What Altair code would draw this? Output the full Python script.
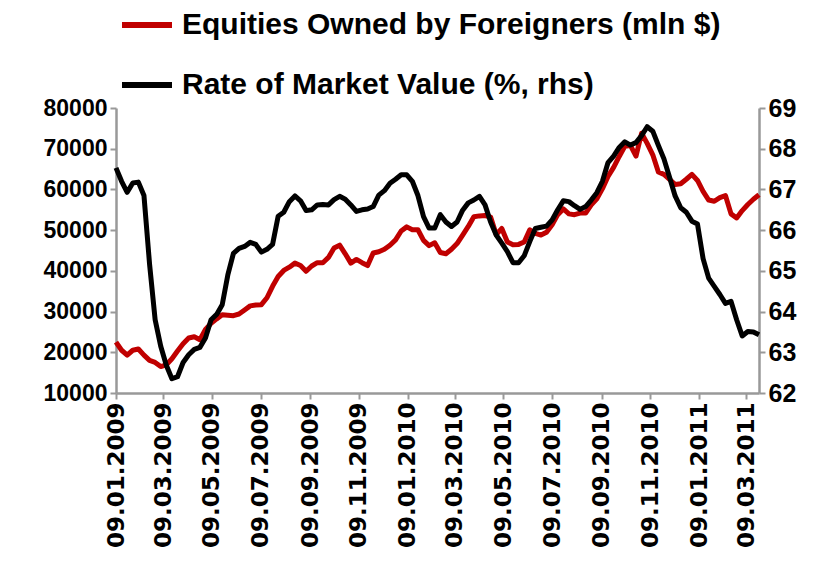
import altair as alt
import pandas as pd

# weekly observations, 09.01.2009 .. 25.03.2011
dates = pd.date_range("2009-01-09", periods=116, freq="7D").strftime("%Y-%m-%dT00:00:00").tolist()

equities = [
    22500, 20500, 19300, 20500, 20800, 19300, 18000, 17500, 16500, 16900,
    18400, 20300, 22100, 23500, 23800, 23100, 25600, 27100, 28200, 29200,
    29100, 29000, 29400, 30400, 31400, 31600, 31700, 33400, 36200, 38600,
    40100, 40900, 41900, 41300, 39900, 41200, 42000, 42000, 43300, 45600,
    46300, 44200, 41900, 42800, 42000, 41300, 44400, 44700, 45300, 46300,
    47600, 49800, 50800, 50100, 50100, 47500, 46200, 46900, 44500, 44200,
    45300, 46700, 48800, 50900, 53300, 53500, 53600, 53200, 48900, 50400,
    47100, 46400, 46500, 47100, 50100, 49200, 48800, 49500, 51300, 53800,
    55200, 54000, 53800, 54200, 54200, 56200, 57700, 60200, 63200, 65400,
    68100, 70600, 70800, 68200, 73800, 71300, 68500, 64300, 63700, 62500,
    61200, 61400, 62500, 63700, 62200, 59500, 57400, 57100, 58000, 58500,
    54000, 53000, 54800, 56300, 57600, 58700,
]

rate = [
    67.53, 67.20, 66.93, 67.16, 67.18, 66.85, 65.17, 63.80, 63.15, 62.68,
    62.35, 62.40, 62.75, 62.94, 63.07, 63.12, 63.35, 63.80, 63.93, 64.17,
    64.90, 65.43, 65.55, 65.60, 65.70, 65.65, 65.46, 65.53, 65.65, 66.34,
    66.44, 66.70, 66.84, 66.72, 66.48, 66.50, 66.62, 66.63, 66.62, 66.75,
    66.83, 66.76, 66.62, 66.46, 66.50, 66.52, 66.58, 66.86, 66.97, 67.15,
    67.25, 67.36, 67.36, 67.20, 66.85, 66.33, 66.05, 66.05, 66.38, 66.20,
    66.09, 66.20, 66.49, 66.67, 66.74, 66.83, 66.62, 66.20, 65.88, 65.68,
    65.47, 65.20, 65.20, 65.37, 65.72, 66.04, 66.07, 66.10, 66.25, 66.50,
    66.72, 66.70, 66.60, 66.51, 66.58, 66.74, 66.92, 67.20, 67.66, 67.82,
    68.03, 68.17, 68.09, 68.15, 68.32, 68.54, 68.43, 68.08, 67.75, 67.30,
    66.84, 66.55, 66.44, 66.22, 66.15, 65.30, 64.82, 64.62, 64.42, 64.20,
    64.25, 63.80, 63.40, 63.51, 63.50, 63.43,
]

series_names = ["Equities Owned by Foreigners (mln $)", "Rate of Market Value (%, rhs)"]
series_colors = ["#C00000", "#000000"]

tick_months = [(2009, 1), (2009, 3), (2009, 5), (2009, 7), (2009, 9), (2009, 11),
               (2010, 1), (2010, 3), (2010, 5), (2010, 7), (2010, 9), (2010, 11),
               (2011, 1), (2011, 3)]
left_ticks = [10000, 20000, 30000, 40000, 50000, 60000, 70000, 80000]
right_ticks = [62, 63, 64, 65, 66, 67, 68, 69]

df = pd.DataFrame({"date": dates, "equities": equities, "rate": rate})

color_scale = alt.Scale(domain=series_names, range=series_colors)
legend = alt.Legend(
    orient="none", legendX=3, legendY=-111, direction="vertical", title=None,
    symbolType="stroke", symbolSize=2500, symbolStrokeWidth=6,
    labelFont="Liberation Sans", labelFontWeight="bold", labelFontSize=30,
    labelColor="#000000", labelLimit=0, labelOffset=7, rowPadding=17,
)

x_enc = alt.X(
    "date:T",
    scale=alt.Scale(domain=[alt.DateTime(year=2009, month=1, date=9),
                            alt.DateTime(year=2011, month=3, date=25)], nice=False),
    axis=alt.Axis(
        title=None, values=[alt.DateTime(year=y, month=m, date=9) for y, m in tick_months],
        format="%d.%m.%Y", labelAngle=270, labelFont="DejaVu Sans", labelFontWeight="bold",
        labelFontSize=23, labelPadding=3, labelOverlap=False, labelFlush=False,
    ),
)

base = alt.Chart(df).encode(x=x_enc)

red = base.mark_line(strokeWidth=5, strokeJoin="round").encode(
    y=alt.Y("equities:Q",
            scale=alt.Scale(domain=[10000, 80000], nice=False),
            axis=alt.Axis(title=None, orient="left", values=left_ticks, format="d",
                          labelFont="Liberation Sans", labelFontWeight="bold",
                          labelFontSize=23, labelPadding=3)),
    color=alt.Color("s:N", scale=color_scale, legend=legend),
).transform_calculate(s="'" + series_names[0] + "'")

black = base.mark_line(strokeWidth=5, strokeJoin="round").encode(
    y=alt.Y("rate:Q",
            scale=alt.Scale(domain=[62, 69], nice=False),
            axis=alt.Axis(title=None, orient="right", values=right_ticks, format="d",
                          labelFont="Liberation Sans", labelFontWeight="bold",
                          labelFontSize=25, labelPadding=3)),
    color=alt.Color("s:N", scale=color_scale, legend=legend),
).transform_calculate(s="'" + series_names[1] + "'")

chart = alt.layer(red, black).resolve_scale(y="independent").properties(
    width=643, height=285,
    autosize=alt.AutoSizeParams(type="none"),
    padding={"left": 108, "top": 100, "right": 50, "bottom": 162},
).configure_axis(
    grid=False, domainColor="#999999", domainWidth=2.5, tickColor="#999999",
    tickWidth=2, tickSize=6, labelColor="#000000",
).configure_view(stroke=None)

chart.save("out.html", embed_options={"renderer": "svg", "actions": False})
